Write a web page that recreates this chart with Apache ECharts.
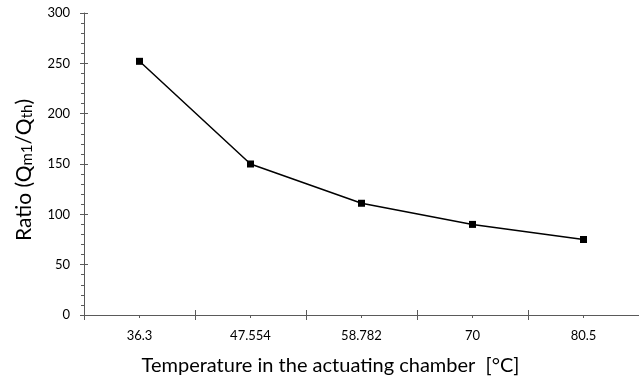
<!DOCTYPE html>
<html>
<head>
<meta charset="utf-8">
<script src="https://cdn.jsdelivr.net/npm/echarts@6/dist/echarts.min.js"></script>
<style>
html,body{margin:0;padding:0;background:#fff;}
#chart{width:639px;height:387px;}
</style>
</head>
<body>
<div id="chart"></div>
<script>
const categories = ['36.3', '47.554', '58.782', '70', '80.5'];
const ratioValues = [252, 150, 111, 90, 75];
const yTicks = { min: 0, max: 300, interval: 50 };

const FONT = 'Lato';
const AXIS_COLOR = '#5a5a5a';

const chart = echarts.init(document.getElementById('chart'), null, { renderer: 'canvas' });

const baseX = {
  type: 'category',
  data: categories,
  position: 'bottom',
  boundaryGap: true,
  splitLine: { show: false }
};
const baseY = {
  type: 'value',
  min: yTicks.min,
  max: yTicks.max,
  interval: yTicks.interval,
  position: 'left',
  splitLine: { show: false }
};

chart.setOption({
  animation: false,
  backgroundColor: '#ffffff',
  grid: { left: 84, top: 13, width: 560, bottom: 72, containLabel: false },
  xAxis: [
    Object.assign({}, baseX, {
      axisLine: { show: true, lineStyle: { color: AXIS_COLOR, width: 1 } },
      axisTick: { show: true, inside: false, length: 5, interval: 0, lineStyle: { color: AXIS_COLOR } },
      axisLabel: { show: true, interval: 0, margin: 14, color: '#000', fontFamily: FONT, fontSize: 13 },
      name: 'Temperature in the actuating chamber  [°C]',
      nameLocation: 'middle',
      nameGap: 41,
      nameTextStyle: { color: '#000', fontFamily: FONT, fontSize: 20, padding: [0, 62, 0, 0] }
    }),
    Object.assign({}, baseX, {
      axisLine: { show: false },
      axisTick: { show: true, inside: true, length: 5, interval: 0, lineStyle: { color: AXIS_COLOR } },
      axisLabel: { show: false }
    }),
    Object.assign({}, baseX, {
      axisLine: { show: false },
      axisTick: { show: true, inside: false, alignWithLabel: true, length: 3, interval: 0, lineStyle: { color: AXIS_COLOR } },
      axisLabel: { show: false }
    })
  ],
  yAxis: [
    Object.assign({}, baseY, {
      axisLine: { show: true, lineStyle: { color: AXIS_COLOR, width: 1 } },
      axisTick: { show: true, inside: false, length: 4, lineStyle: { color: AXIS_COLOR } },
      minorTick: { show: true, splitNumber: 5, length: 3, lineStyle: { color: AXIS_COLOR } },
      minorSplitLine: { show: false },
      axisLabel: { show: true, margin: 14, color: '#000', fontFamily: FONT, fontSize: 13 },
      name: 'Ratio (Q{sub|m1}/Q{sub|th})',
      nameLocation: 'middle',
      nameRotate: 90,
      nameGap: 49,
      nameTextStyle: {
        color: '#000', fontFamily: FONT, fontSize: 21, padding: [0, 12, 0, 0],
        rich: {
          sub: { fontFamily: FONT, fontSize: 15, color: '#000', verticalAlign: 'bottom', lineHeight: 16 }
        }
      }
    }),
    Object.assign({}, baseY, {
      axisLine: { show: false },
      axisTick: { show: true, inside: true, length: 4, lineStyle: { color: AXIS_COLOR } },
      axisLabel: { show: false }
    })
  ],
  series: [{
    type: 'line',
    xAxisIndex: 0,
    yAxisIndex: 0,
    data: ratioValues,
    symbol: 'rect',
    symbolSize: 7,
    itemStyle: { color: '#000' },
    lineStyle: { color: '#000', width: 1.5 }
  }]
});
</script>
</body>
</html>
